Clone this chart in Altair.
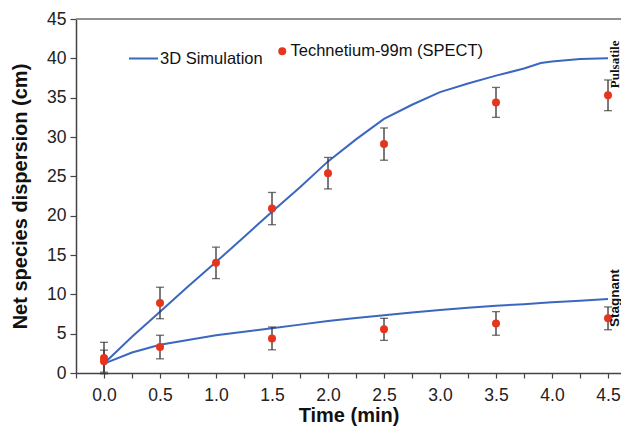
import altair as alt
import pandas as pd

# ---------------- data ----------------
SIM_TIME = [0.0, 0.25, 0.5, 0.75, 1.0, 1.25, 1.5, 1.75, 2.0, 2.25, 2.5, 2.75,
            3.0, 3.25, 3.5, 3.75, 3.9, 4.0, 4.25, 4.5]
PULSATILE_SIM = [1.2, 4.6, 7.8, 11.0, 14.1, 17.3, 20.5, 23.6, 26.9, 29.7, 32.3, 34.1,
                 35.7, 36.8, 37.8, 38.7, 39.4, 39.6, 39.9, 40.0]
STAGNANT_SIM = [1.2, 2.6, 3.6, 4.2, 4.8, 5.25, 5.7, 6.15, 6.6, 7.0, 7.35, 7.7,
                8.0, 8.3, 8.55, 8.75, 8.9, 9.0, 9.2, 9.4]

PULSATILE_TIME = [0.0, 0.5, 1.0, 1.5, 2.0, 2.5, 3.5, 4.5]
PULSATILE_EXP = [1.9, 8.9, 14.0, 20.9, 25.4, 29.1, 34.4, 35.3]
PULSATILE_ERR = [2.0, 2.0, 2.0, 2.05, 2.0, 2.05, 1.9, 1.95]

STAGNANT_TIME = [0.0, 0.5, 1.5, 2.5, 3.5, 4.5]
STAGNANT_EXP = [1.5, 3.3, 4.4, 5.55, 6.3, 6.95]
STAGNANT_ERR = [1.4, 1.5, 1.45, 1.4, 1.5, 1.45]

SERIES = ["Pulsatile", "Stagnant"]
LEGEND_LABELS = ["3D Simulation", "Technetium-99m (SPECT)"]
X_TICKS = [-0.25, 0.0, 0.25, 0.5, 0.75, 1.0, 1.25, 1.5, 1.75, 2.0, 2.25, 2.5,
           2.75, 3.0, 3.25, 3.5, 3.75, 4.0, 4.25, 4.5]
Y_TICKS = [0, 5, 10, 15, 20, 25, 30, 35, 40, 45]
X_TITLE = "Time (min)"
Y_TITLE = "Net species dispersion (cm)"

BLUE = "#3b67bf"
RED = "#e6341d"
BAR = "#333333"

# ---------------- tables ----------------
sim = pd.concat([
    pd.DataFrame({"t": SIM_TIME, "v": PULSATILE_SIM, "series": SERIES[0]}),
    pd.DataFrame({"t": SIM_TIME, "v": STAGNANT_SIM, "series": SERIES[1]}),
])
sim["legend"] = LEGEND_LABELS[0]

exp = pd.concat([
    pd.DataFrame({"t": PULSATILE_TIME, "v": PULSATILE_EXP, "e": PULSATILE_ERR, "series": SERIES[0]}),
    pd.DataFrame({"t": STAGNANT_TIME, "v": STAGNANT_EXP, "e": STAGNANT_ERR, "series": SERIES[1]}),
])
exp["lo"] = exp["v"] - exp["e"]
exp["hi"] = exp["v"] + exp["e"]
exp["legend"] = LEGEND_LABELS[1]

ends = pd.DataFrame({"t": [SIM_TIME[-1]] * 2,
                     "v": [PULSATILE_SIM[-1], STAGNANT_SIM[-1]],
                     "label": SERIES})

# ---------------- scales / axes ----------------
PLOT_W = 545
xs = alt.Scale(domain=[-0.25, 4.616], nice=False, zero=False)
ys = alt.Scale(domain=[0, 45], nice=False)

xaxis = alt.Axis(values=X_TICKS,
                 labelExpr="datum.value % 0.5 == 0 ? format(datum.value, '.1f') : ''",
                 tickSize=5, labelPadding=8, titlePadding=2, grid=False,
                 labelOverlap=False)
yaxis = alt.Axis(values=Y_TICKS, tickSize=6, labelPadding=4, titlePadding=16, grid=False,
                 labelOverlap=False)

X = alt.X("t:Q", scale=xs, axis=xaxis, title=X_TITLE)
Y = alt.Y("v:Q", scale=ys, axis=yaxis, title=Y_TITLE)

top_line = alt.Chart(ends).mark_rule(color="#8a8a8a", strokeWidth=1.5).encode(
    x=alt.value(0), x2=alt.value(PLOT_W),
    y=alt.YDatum(Y_TICKS[-1], scale=ys, axis=yaxis, title=Y_TITLE),
)

lines = alt.Chart(sim).mark_line(strokeWidth=2).encode(
    x=X, y=Y, detail="series:N",
    stroke=alt.Stroke("legend:N",
                      scale=alt.Scale(domain=[LEGEND_LABELS[0]], range=[BLUE]),
                      legend=alt.Legend(orient="none", legendX=52, legendY=24, title=None,
                                        symbolType="stroke", symbolSize=841,
                                        symbolStrokeWidth=2, labelOffset=1,
                                        labelFontSize=16.5, labelColor="#111", labelLimit=0,
                                        labelFont="Liberation Sans", padding=0)),
)

bars = alt.Chart(exp).mark_rule(color=BAR, strokeWidth=1.3).encode(
    x=X, y=alt.Y("lo:Q", scale=ys, axis=yaxis, title=Y_TITLE), y2="hi:Q"
)
caps_lo = alt.Chart(exp).mark_tick(color=BAR, orient="horizontal", size=8, thickness=1.3).encode(
    x=X, y=alt.Y("lo:Q", scale=ys, axis=yaxis, title=Y_TITLE)
)
caps_hi = alt.Chart(exp).mark_tick(color=BAR, orient="horizontal", size=8, thickness=1.3).encode(
    x=X, y=alt.Y("hi:Q", scale=ys, axis=yaxis, title=Y_TITLE)
)

points = alt.Chart(exp).mark_circle(size=64, opacity=1).encode(
    x=X, y=Y,
    fill=alt.Fill("legend:N",
                  scale=alt.Scale(domain=[LEGEND_LABELS[1]], range=[RED]),
                  legend=alt.Legend(orient="none", legendX=198, legendY=24, title=None,
                                    symbolType="circle", symbolSize=64,
                                    symbolStrokeWidth=0, labelOffset=0,
                                    labelFontSize=16.5, labelColor="#111", labelLimit=0,
                                    labelFont="Liberation Sans", padding=0)),
)

lab_p = alt.Chart(ends).transform_filter(alt.datum.label == SERIES[0]).mark_text(
    angle=270, align="center", baseline="middle", font="Liberation Serif",
    fontWeight="bold", fontSize=13, color="#111", dx=-6, dy=7, clip=False
).encode(x=X, y=Y, text="label:N")

lab_s = alt.Chart(ends).transform_filter(alt.datum.label == SERIES[1]).mark_text(
    angle=270, align="center", baseline="middle", font="Liberation Sans",
    fontWeight="bold", fontSize=13.5, color="#111", dx=1, dy=7, clip=False
).encode(x=X, y=Y, text="label:N")

chart = alt.layer(top_line, lines, bars, caps_lo, caps_hi, points, lab_p, lab_s).properties(
    width=PLOT_W, height=354,
    autosize=alt.AutoSizeParams(type="none"),
    padding={"left": 68, "top": 11, "right": 0, "bottom": 53},
).configure_view(stroke=None).configure_axis(
    domainColor="#444", domainWidth=1.5, tickColor="#444", tickWidth=1.2,
    labelFont="Liberation Sans", labelFontSize=17.5, labelColor="#222",
    titleFont="Liberation Sans", titleFontSize=20, titleFontWeight="bold", titleColor="#111",
)

chart.save("out.html", embed_options={"renderer": "svg", "actions": False})
